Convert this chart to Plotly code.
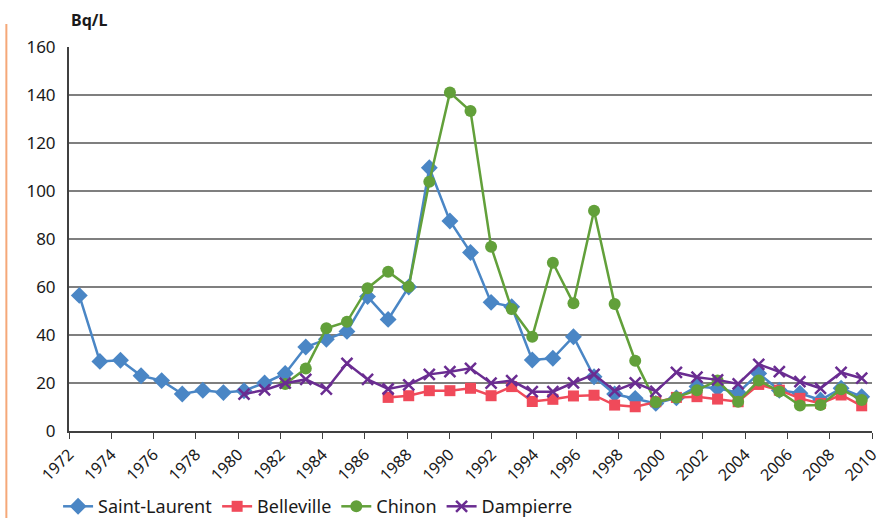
import plotly.graph_objects as go

years = list(range(1972, 2011))

saint_laurent = [56.5, 29, 29.5, 23, 21, 15.4, 17, 16, 16.8, 20, 24, 35, 38.2, 41.5, 56, 46.5, 60,
                 109.7, 87.5, 74.4, 53.6, 51.8, 29.6, 30.3, 39.3, 22.6, 15.4, 13.6, 11.5, 13.8,
                 18.5, 17.8, 16, 24, 17, 15.7, 12.9, 17.8, 14.3]

belleville_years = list(range(1987, 2011))
belleville = [14, 14.7, 16.8, 16.8, 17.8, 14.7, 18.5, 12.3, 13.2, 14.6, 14.9, 10.8, 10.1, 12.2,
              14, 14.3, 13.3, 12.2, 19.4, 17, 13.6, 11.5, 15, 10.5]

chinon_years = list(range(1982, 2011))
chinon = [19.6, 26, 42.8, 45.5, 59.5, 66.4, 60.1, 103.9, 141, 133.3, 76.8, 50.8, 39.3, 70.1,
          53.2, 91.8, 52.9, 29.3, 12, 14, 17, 21, 12.2, 21, 16.5, 10.6, 10.8, 17.4, 12.9]

dampierre_years = list(range(1980, 2011))
dampierre = [15.4, 17.1, 19.9, 21.5, 17.4, 28.2, 21.5, 17.5, 19.2, 23.6, 24.7, 26.1, 19.9, 21,
             16.4, 16.4, 20.1, 23.6, 16.7, 20.1, 16.5, 24.4, 22.4, 21.3, 19.6, 27.8, 24.7, 20.6,
             17.8, 24.4, 22]

label_years = list(range(1972, 2011, 2))

fig = go.Figure()

fig.add_trace(go.Scatter(x=years, y=saint_laurent, name="Saint-Laurent", mode="lines+markers",
                         line=dict(color="#4A86C5", width=2.5),
                         marker=dict(symbol="diamond", size=13, color="#4A86C5")))
fig.add_trace(go.Scatter(x=belleville_years, y=belleville, name="Belleville", mode="lines+markers",
                         line=dict(color="#F04A5A", width=2.5),
                         marker=dict(symbol="square", size=11, color="#F04A5A")))
fig.add_trace(go.Scatter(x=chinon_years, y=chinon, name="Chinon", mode="lines+markers",
                         line=dict(color="#62A03A", width=2.5),
                         marker=dict(symbol="circle", size=12, color="#62A03A")))
fig.add_trace(go.Scatter(x=dampierre_years, y=dampierre, name="Dampierre", mode="lines+markers",
                         line=dict(color="#6A2C91", width=2.5),
                         marker=dict(symbol="x-thin", size=11, color="#6A2C91",
                                     line=dict(color="#6A2C91", width=2.5))))

# labels are spread evenly over the full axis width, as in the original
n = len(label_years) - 1
tickvals = [1971.5 + k * 39 / n for k in range(n + 1)]

fig.update_layout(
    width=880, height=518,
    margin=dict(l=69, r=8, t=47, b=87),
    paper_bgcolor="white", plot_bgcolor="white",
    font=dict(family="Noto Sans", size=16, color="#1a1a1a"),
    showlegend=True,
    legend=dict(orientation="h", xref="container", yref="container", x=0.066, y=0.022,
                xanchor="left", yanchor="middle", font=dict(size=18), tracegroupgap=0,
                itemwidth=30),
    xaxis=dict(range=[1971.5, 2010.5001], tickvals=tickvals, ticktext=[str(y) for y in label_years],
               tickangle=-45, ticks="outside", ticklen=6, tickcolor="#404040", automargin=False,
               ticklabeloverflow="allow",
               showline=True, linecolor="#404040", linewidth=2, showgrid=False, zeroline=False,
               tickfont=dict(size=16)),
    yaxis=dict(range=[0, 160], dtick=20, showgrid=True, gridcolor="#7f7f7f", gridwidth=1.5,
               showline=True, linecolor="#404040", linewidth=2, zeroline=False, automargin=False,
               ticks="", ticklabelstandoff=8, tickfont=dict(size=17)),
    annotations=[dict(text="<b>Bq/L</b>", xref="paper", yref="paper", x=0, y=1.07,
                      xanchor="left", yanchor="middle", showarrow=False, font=dict(size=16))],
    shapes=[dict(type="line", xref="paper", yref="paper", x0=-0.078, x1=-0.078, y0=1.06, y1=-0.23,
                 line=dict(color="#F5A878", width=2))],
)

# drop the default page margin so the figure sits at the window's corner
fig.write_html("out.html", config={"displayModeBar": False},
               post_script="document.body.style.margin='0';")
